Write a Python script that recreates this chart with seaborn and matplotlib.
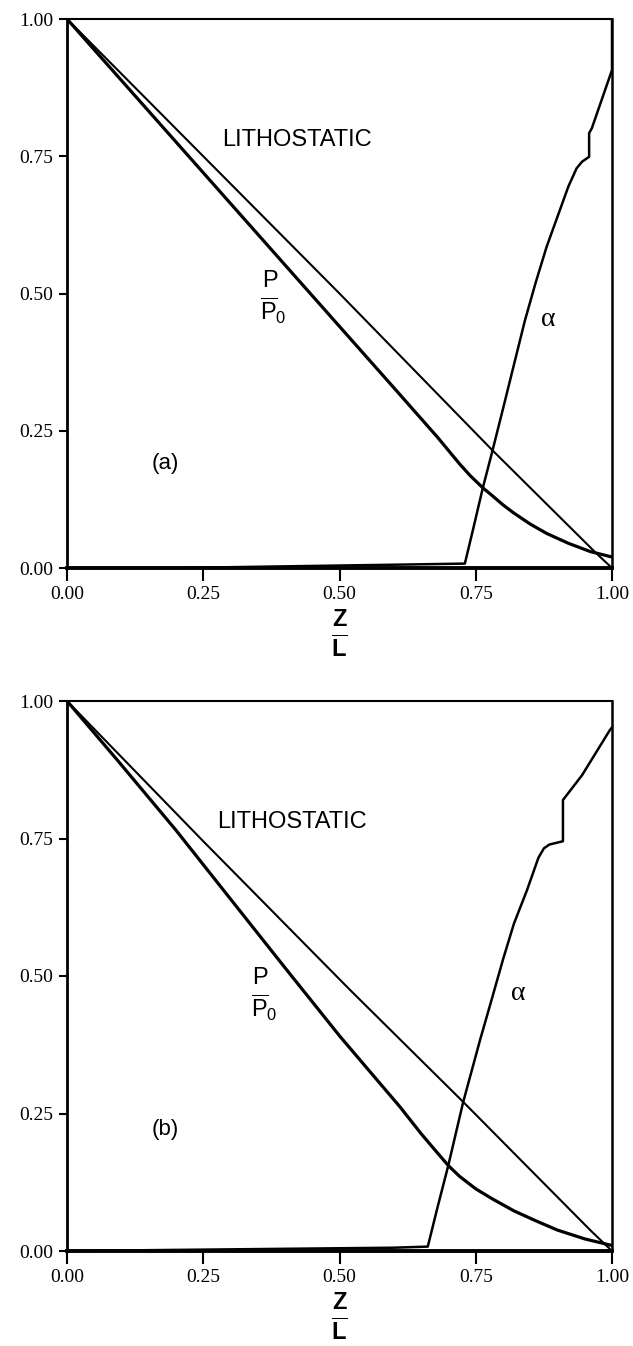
import matplotlib
matplotlib.use("Agg")
import matplotlib.pyplot as plt
import seaborn as sns
import pandas as pd
from matplotlib.mathtext import MathTextParser

# ---------------- data ----------------
# Panel (a)
litho_a_z = [0.0, 0.25, 0.50, 0.78, 0.972, 1.0]
litho_a_y = [1.0, 0.75, 0.50, 0.215, 0.026, 0.0]

p_a_z = [0.0, 0.10, 0.20, 0.30, 0.40, 0.50, 0.60, 0.68, 0.70, 0.72, 0.74, 0.763, 0.78, 0.80,
         0.82, 0.85, 0.88, 0.92, 0.96, 1.0]
p_a_y = [1.0, 0.888, 0.776, 0.664, 0.552, 0.44, 0.328, 0.238, 0.214, 0.19, 0.168, 0.146, 0.132,
         0.115, 0.10, 0.08, 0.063, 0.045, 0.03, 0.02]

alpha_a_z = [0.0, 0.20, 0.40, 0.60, 0.730, 0.745, 0.763, 0.780, 0.80, 0.82, 0.84, 0.86, 0.88,
             0.90, 0.92, 0.935, 0.945, 0.958, 0.958, 0.963, 1.0, 1.0]
alpha_a_y = [0.0, 0.0, 0.003, 0.006, 0.008, 0.07, 0.146, 0.211, 0.29, 0.37, 0.45, 0.52, 0.585,
             0.64, 0.695, 0.728, 0.740, 0.749, 0.792, 0.801, 0.907, 1.0]

# Panel (b)
litho_b_z = [0.0, 0.25, 0.519, 0.727, 0.96, 1.0]
litho_b_y = [1.0, 0.745, 0.475, 0.271, 0.038, 0.0]

p_b_z = [0.0, 0.092, 0.20, 0.30, 0.40, 0.501, 0.611, 0.65, 0.68, 0.70, 0.72, 0.75, 0.78, 0.82,
         0.86, 0.90, 0.95, 1.0]
p_b_y = [1.0, 0.893, 0.765, 0.64, 0.515, 0.39, 0.262, 0.213, 0.178, 0.155, 0.136, 0.113, 0.095,
         0.073, 0.055, 0.038, 0.022, 0.01]

alpha_b_z = [0.0, 0.20, 0.40, 0.60, 0.662, 0.68, 0.699, 0.727, 0.758, 0.78, 0.80, 0.82, 0.844,
             0.865, 0.875, 0.885, 0.910, 0.910, 0.945, 0.996, 1.0]
alpha_b_y = [0.0, 0.002, 0.004, 0.006, 0.008, 0.08, 0.153, 0.271, 0.384, 0.46, 0.53, 0.595,
             0.656, 0.715, 0.732, 0.739, 0.745, 0.82, 0.865, 0.947, 0.952]

tick_vals = [0.0, 0.25, 0.50, 0.75, 1.0]
tick_labels = ["0.00", "0.25", "0.50", "0.75", "1.00"]

panels = [
    dict(litho=(litho_a_z, litho_a_y), p=(p_a_z, p_a_y), alpha=(alpha_a_z, alpha_a_y),
         tag="(a)", tag_xy=(0.18, 0.19), lith_xy=(0.284, 0.78),
         p_xy=(0.372, 0.522), p0_xy=(0.378, 0.468), a_xy=(0.883, 0.452)),
    dict(litho=(litho_b_z, litho_b_y), p=(p_b_z, p_b_y), alpha=(alpha_b_z, alpha_b_y),
         tag="(b)", tag_xy=(0.18, 0.22), lith_xy=(0.275, 0.78),
         p_xy=(0.354, 0.495), p0_xy=(0.362, 0.442), a_xy=(0.828, 0.469)),
]

# ---------------- style ----------------
sns.set_style("ticks")
plt.rcParams["font.family"] = ["Liberation Serif", "DejaVu Serif"]
plt.rcParams["mathtext.fontset"] = "custom"
plt.rcParams["mathtext.rm"] = "Liberation Sans"
plt.rcParams["mathtext.it"] = "Liberation Sans"
plt.rcParams["mathtext.bf"] = "Liberation Sans:bold"
plt.rcParams["text.color"] = "black"
plt.rcParams["xtick.color"] = "black"
plt.rcParams["ytick.color"] = "black"
plt.rcParams["axes.labelcolor"] = "black"


def checked(cand, fallback):
    try:
        MathTextParser("agg").parse(cand, dpi=100)
        return cand
    except Exception:
        return fallback


p0_txt = checked(r"$\overline{\mathrm{P}}_{0}$", r"$\mathrm{P_0}$")
l_txt = checked(r"$\overline{\mathbf{L}}$", r"$\mathbf{L}$")

W, H = 633, 1346
fig = plt.figure(figsize=(W / 100, H / 100), dpi=100)
rects = [(67, 19, 612, 568), (67, 701, 612, 1251)]

for pan, (l, t, r, b) in zip(panels, rects):
    ax = fig.add_axes([l / W, 1 - b / H, (r - l) / W, (b - t) / H])
    for key, lw in (("litho", 1.5), ("p", 2.3), ("alpha", 1.8)):
        zz, yy = pan[key]
        df = pd.DataFrame({"z": zz, "v": yy})
        sns.lineplot(data=df, x="z", y="v", sort=False, estimator=None,
                     color="black", lw=lw, ax=ax)
    ax.set_xlim(0, 1)
    ax.set_ylim(0, 1)
    ax.set_xlabel("")
    ax.set_ylabel("")
    ax.set_xticks(tick_vals)
    ax.set_xticklabels(tick_labels)
    ax.set_yticks(tick_vals)
    ax.set_yticklabels(tick_labels)
    ax.tick_params(axis="x", direction="out", length=9, width=1.5, pad=4, labelsize=14,
                   colors="black")
    ax.tick_params(axis="y", direction="out", length=6, width=1.5, pad=4, labelsize=14,
                   colors="black")
    for side, w in (("left", 2.0), ("bottom", 2.8), ("top", 1.5), ("right", 1.8)):
        ax.spines[side].set_linewidth(w)
        ax.spines[side].set_color("black")

    ax.text(*pan["lith_xy"], "LITHOSTATIC", family="Liberation Sans", fontsize=17,
            ha="left", va="center", color="black")
    ax.text(*pan["p_xy"], r"$\mathrm{P}$", fontsize=17, ha="center", va="center",
            color="black")
    ax.text(*pan["p0_xy"], p0_txt, fontsize=17, ha="center", va="center", color="black")
    ax.text(*pan["a_xy"], "α", family="Liberation Serif", fontsize=20,
            ha="center", va="center", color="black")
    ax.text(*pan["tag_xy"], pan["tag"], family="Liberation Sans", fontsize=16,
            ha="center", va="center", color="black")
    ax.text(0.5, -0.095, r"$\mathbf{Z}$", fontsize=17, color="black",
            ha="center", va="center", transform=ax.transAxes)
    ax.text(0.5, -0.148, l_txt, fontsize=17, color="black",
            ha="center", va="center", transform=ax.transAxes)

fig.savefig("out.png", dpi=100, facecolor="white")
